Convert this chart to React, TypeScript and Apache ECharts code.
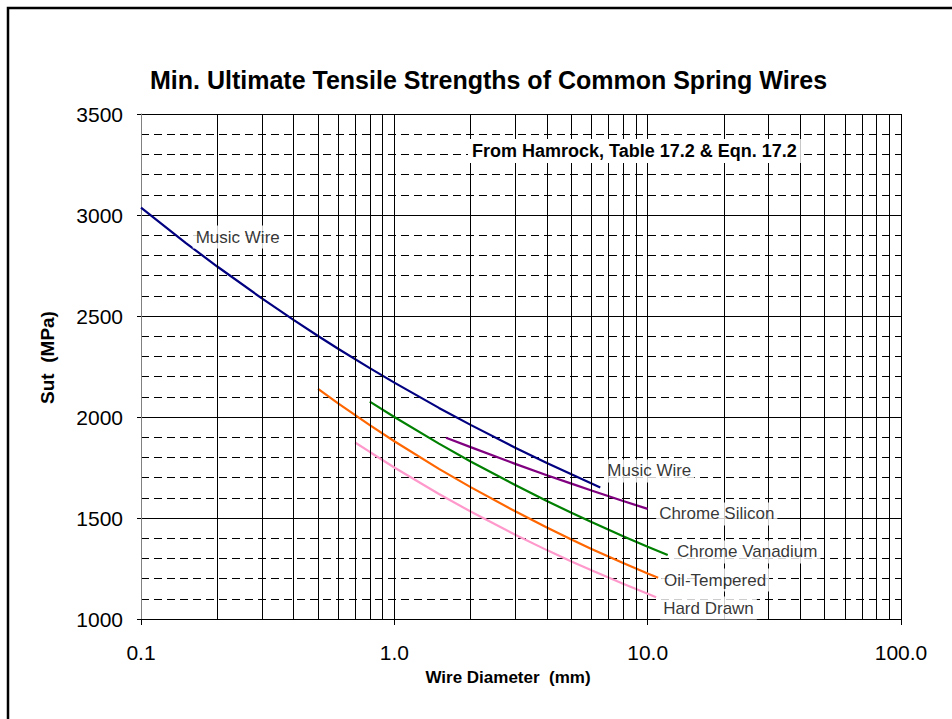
import React, { useEffect, useRef } from "react";
import * as echarts from "echarts";

const FONT = "'Liberation Sans', Arial, sans-serif";

const musicD = [0.1, 0.15, 0.2, 0.3, 0.4, 0.5, 0.6, 0.8, 1.0, 1.5, 2, 3, 4, 5, 6.5];
const musicS = [3037, 2862, 2745, 2587, 2481, 2401, 2338, 2242, 2170, 2045, 1961, 1848, 1772, 1716, 1651];

const siliconD = [1.6, 2, 3, 4, 5, 6, 8, 10];
const siliconS = [1897, 1851, 1768, 1712, 1670, 1636, 1584, 1545];

const vanadiumD = [0.8, 1.0, 1.5, 2, 3, 4, 5, 6, 8, 10, 12];
const vanadiumS = [2076, 2000, 1868, 1780, 1663, 1584, 1526, 1480, 1410, 1358, 1317];

const oilD = [0.5, 0.6, 0.8, 1.0, 1.5, 2, 3, 4, 5, 6, 8, 10, 11];
const oilS = [2139, 2067, 1960, 1880, 1743, 1653, 1533, 1453, 1394, 1347, 1277, 1225, 1204];

const hardD = [0.7, 0.8, 1.0, 1.5, 2, 3, 4, 5, 6, 8, 10, 10.8];
const hardS = [1874, 1827, 1750, 1619, 1532, 1417, 1341, 1285, 1241, 1174, 1125, 1108];

const minorX = [0.2, 0.3, 0.4, 0.5, 0.6, 0.7, 0.8, 0.9, 2, 3, 4, 5, 6, 7, 8, 9, 20, 30, 40, 50, 60, 70, 80, 90];

const labelNames = ["Music Wire", "Music Wire", "Chrome Silicon", "Chrome Vanadium", "Oil-Tempered", "Hard Drawn"];
const labelX = [0.16, 6.74, 10.8, 12.7, 11.3, 11.2];
const labelY = [2891, 1733, 1520, 1332, 1193, 1054];

const zip = (a: number[], b: number[]) => a.map((v, i) => [v, b[i]]);

export default function App() {
  const ref = useRef<HTMLDivElement>(null);
  useEffect(() => {
    document.body.style.margin = "0";
    if (!ref.current) return;
    const chart = echarts.init(ref.current, undefined, { renderer: "svg" });
    const lineSeries = (name: string, d: number[], s: number[], color: string) => ({
      type: "line",
      name,
      data: zip(d, s),
      showSymbol: false,
      symbol: "none",
      lineStyle: { color, width: 2.2 },
      z: 3,
      silent: true,
    });
    chart.setOption({
      animation: false,
      backgroundColor: "#fff",
      title: {
        text: "Min. Ultimate Tensile Strengths of Common Spring Wires",
        left: 145,
        top: 62,
        textStyle: { fontFamily: FONT, fontSize: 25, fontWeight: "bold", color: "#000" },
      },
      grid: { left: 141, right: 51, top: 114, bottom: 100, containLabel: false },
      xAxis: {
        type: "log",
        logBase: 10,
        min: 0.1,
        max: 100,
        name: "Wire Diameter  (mm)",
        nameLocation: "middle",
        nameGap: 50,
        nameTextStyle: {
          fontFamily: FONT,
          fontSize: 17,
          fontWeight: "bold",
          color: "#000",
          padding: [0, 26, 0, 0],
        },
        axisLine: { lineStyle: { color: "#000", width: 1 } },
        axisTick: { show: true, length: 6, lineStyle: { color: "#000" } },
        axisLabel: {
          fontFamily: FONT,
          fontSize: 21,
          color: "#000",
          margin: 23,
          formatter: (v: number) => v.toFixed(1),
        },
        splitLine: { show: true, lineStyle: { color: "#000", width: 1 } },
      },
      yAxis: {
        type: "value",
        min: 1000,
        max: 3500,
        interval: 500,
        name: "Sut  (MPa)",
        nameLocation: "middle",
        nameGap: 84,
        nameRotate: 90,
        nameTextStyle: {
          fontFamily: FONT,
          fontSize: 19,
          fontWeight: "bold",
          color: "#000",
          padding: [0, 0, 0, 18],
        },
        axisLine: { show: true, lineStyle: { color: "#808080", width: 1 } },
        axisTick: { show: true, length: 4, lineStyle: { color: "#000" } },
        axisLabel: {
          fontFamily: FONT,
          fontSize: 21,
          color: "#000",
          margin: 18,
          formatter: (v: number) => String(v),
        },
        splitLine: { show: true, lineStyle: { color: "#000", width: 1 } },
        minorTick: { show: false, splitNumber: 5 },
        minorSplitLine: { show: true, lineStyle: { color: "#000", width: 1, type: [8, 5] } },
      },
      graphic: [
        {
          type: "rect",
          shape: { x: 8, y: 8, width: 1100, height: 1100 },
          style: { fill: "none", stroke: "#000", lineWidth: 2.5 },
          silent: true,
          z: 100,
        },
        {
          type: "text",
          x: 468,
          y: 151,
          z: 50,
          style: {
            text: "From Hamrock, Table 17.2 & Eqn. 17.2",
            font: "bold 18px " + FONT,
            fill: "#000",
            verticalAlign: "middle",
            backgroundColor: "#fff",
            padding: [3, 4],
          },
        },
      ],
      series: [
        {
          type: "line",
          name: "grid",
          data: [],
          silent: true,
          z: 1,
          markLine: {
            silent: true,
            symbol: ["none", "none"],
            label: { show: false },
            lineStyle: { color: "#000", width: 1, type: "solid" },
            emphasis: { disabled: true },
            data: minorX.map((v) => ({ xAxis: v })),
          },
        },
        lineSeries("Music Wire", musicD, musicS, "#000080"),
        lineSeries("Chrome Silicon", siliconD, siliconS, "#800080"),
        lineSeries("Chrome Vanadium", vanadiumD, vanadiumS, "#008000"),
        lineSeries("Oil-Tempered", oilD, oilS, "#FF6600"),
        lineSeries("Hard Drawn", hardD, hardS, "#FF99CC"),
        {
          type: "scatter",
          name: "labels",
          symbolSize: 0,
          silent: true,
          z: 10,
          data: labelNames.map((n, i) => ({ name: n, value: [labelX[i], labelY[i]] })),
          label: {
            show: true,
            position: "right",
            distance: 0,
            formatter: (p: any) => p.name,
            fontFamily: FONT,
            fontSize: 17,
            color: "#000",
            backgroundColor: "#fff",
            padding: [3, 3],
          },
        },
      ],
    });
    return () => chart.dispose();
  }, []);
  return <div ref={ref} style={{ width: 952, height: 719 }} />;
}
